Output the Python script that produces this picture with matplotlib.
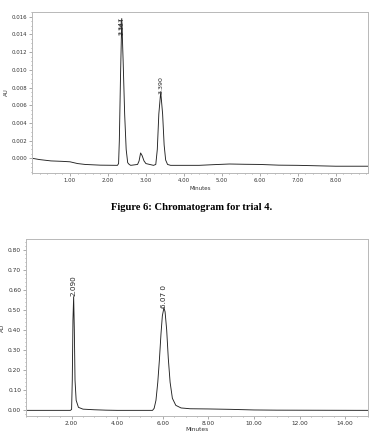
import matplotlib
matplotlib.use("Agg")
import matplotlib.pyplot as plt
from matplotlib.ticker import MultipleLocator, FormatStrFormatter

# Trial 4 trace (minutes, AU)
t4_min = [0.00, 0.20, 0.50, 0.80, 1.00, 1.20, 1.40, 1.80, 2.25, 2.28, 2.30, 2.33,
          2.364, 2.40, 2.44, 2.48, 2.52, 2.56, 2.60, 2.78, 2.82, 2.86, 2.90, 2.95,
          3.00, 3.10, 3.20, 3.26, 3.30, 3.34, 3.39, 3.44, 3.48, 3.52, 3.57, 3.65,
          4.00, 4.40, 4.80, 5.20, 5.60, 6.00, 6.50, 7.00, 7.50, 8.00, 8.85]
t4_au = [0.0000, -0.00015, -0.0003, -0.00035, -0.0004, -0.0006, -0.0007, -0.00078,
         -0.0008, -0.0006, 0.002, 0.009, 0.0158, 0.011, 0.005, 0.001, -0.0005, -0.0007,
         -0.0008, -0.0007, -0.0003, 0.0006, 0.0003, -0.0003, -0.0006, -0.0007,
         -0.0008, -0.0007, 0.001, 0.005, 0.0075, 0.005, 0.0015, -0.0002, -0.0007,
         -0.0008, -0.0008, -0.0008, -0.00072, -0.00065, -0.00068, -0.0007,
         -0.00078, -0.0008, -0.00085, -0.0009, -0.0009]
t4_labels = ["2.347", "2.364", "3.390"]
t4_label_x = [2.35, 2.364, 3.39]
t4_label_y = [0.0149, 0.0149, 0.0083]

# Second chromatogram
c2_min = [0.0, 1.0, 1.95, 2.00, 2.03, 2.06, 2.09, 2.12, 2.15, 2.20, 2.30, 2.50,
          3.00, 3.50, 4.00, 5.00, 5.55, 5.62, 5.70, 5.78, 5.85, 5.92, 5.98, 6.05,
          6.10, 6.17, 6.24, 6.32, 6.42, 6.57, 6.80, 7.20, 8.00, 9.00, 10.00,
          11.00, 15.00]
c2_au = [0.0, 0.0, 0.0, 0.005, 0.15, 0.45, 0.566, 0.40, 0.15, 0.05, 0.015, 0.006,
         0.003, 0.001, 0.0, 0.0, 0.0, 0.01, 0.05, 0.14, 0.25, 0.38, 0.47, 0.511,
         0.49, 0.40, 0.26, 0.14, 0.06, 0.025, 0.012, 0.008, 0.007, 0.005, 0.002,
         0.001, 0.0]
c2_labels = ["2.090", "6.07 0"]
c2_label_x = [2.09, 6.07]
c2_label_y = [0.62, 0.567]

caption = "Figure 6: Chromatogram for trial 4."

fig = plt.figure(figsize=(3.74, 4.34), dpi=100)
spine_c = "#b8b8b8"
txt_c = "#333333"


def style(ax, fs):
	for s in ax.spines.values():
		s.set_color(spine_c)
		s.set_linewidth(0.7)
	ax.tick_params(which="both", direction="out", colors="#888888", labelcolor=txt_c,
		labelsize=fs, width=0.5, pad=1.5)
	ax.tick_params(which="major", length=2)
	ax.tick_params(which="minor", length=1)


# Top chart
ax1 = fig.add_axes([0.0856, 0.6007, 0.984 - 0.0856, 0.973 - 0.6007])
ax1.plot(t4_min, t4_au, color="#222222", lw=0.65)
ax1.set_xlim(0, 8.85)
ax1.set_ylim(-0.0017, 0.01657)
ax1.set_xticks([1, 2, 3, 4, 5, 6, 7, 8])
ax1.xaxis.set_major_formatter(FormatStrFormatter("%.2f"))
ax1.xaxis.set_minor_locator(MultipleLocator(0.2))
ax1.set_yticks([0, 0.002, 0.004, 0.006, 0.008, 0.010, 0.012, 0.014, 0.016])
ax1.yaxis.set_major_formatter(FormatStrFormatter("%.3f"))
ax1.yaxis.set_minor_locator(MultipleLocator(0.0005))
style(ax1, 3.9)
ax1.set_xlabel("Minutes", fontsize=4.0, color=txt_c, labelpad=2)
ax1.set_ylabel("AU", fontsize=4.0, color=txt_c, labelpad=2)
for lab, x, y in zip(t4_labels, t4_label_x, t4_label_y):
	ax1.text(x, y, lab, rotation=90, fontsize=4.5, ha="center", va="center", color="#222222")

# Caption
fig.text(0.513, 0.521, caption, ha="center", va="center", fontsize=7.6,
	fontweight="bold", family="Liberation Serif")

# Bottom chart
ax2 = fig.add_axes([0.0695, 0.0415, 0.984 - 0.0695, 0.4486 - 0.0415])
ax2.plot(c2_min, c2_au, color="#222222", lw=0.65)
ax2.set_xlim(0, 15)
ax2.set_ylim(-0.028, 0.851)
ax2.set_xticks([2, 4, 6, 8, 10, 12, 14])
ax2.xaxis.set_major_formatter(FormatStrFormatter("%.2f"))
ax2.xaxis.set_minor_locator(MultipleLocator(0.5))
ax2.set_yticks([0, 0.1, 0.2, 0.3, 0.4, 0.5, 0.6, 0.7, 0.8])
ax2.yaxis.set_major_formatter(FormatStrFormatter("%.2f"))
ax2.yaxis.set_minor_locator(MultipleLocator(0.02))
style(ax2, 4.2)
ax2.set_xlabel("Minutes", fontsize=4.2, color=txt_c, labelpad=1)
ax2.set_ylabel("AU", fontsize=4.2, color=txt_c, labelpad=2)
for lab, x, y in zip(c2_labels, c2_label_x, c2_label_y):
	ax2.text(x, y, lab, rotation=90, fontsize=5.2, ha="center", va="center", color="#222222")

fig.savefig("out.png", dpi=100)
